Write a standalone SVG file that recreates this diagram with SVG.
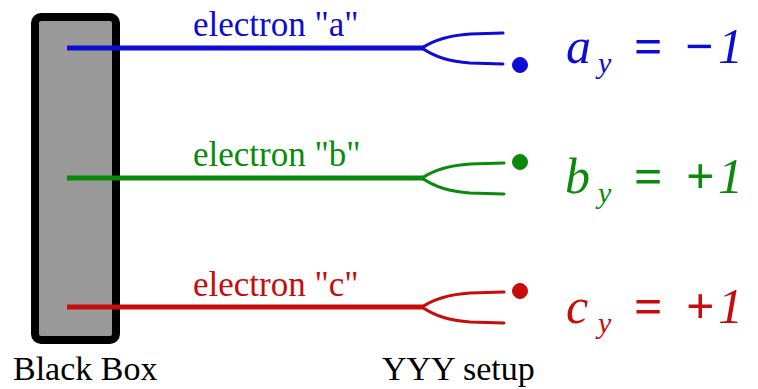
<svg xmlns="http://www.w3.org/2000/svg" width="758" height="389" viewBox="0 0 758 389">
  <style>
    .lbl { font-family: "Liberation Serif", "Times New Roman", serif; font-size: 35px; }
    .bot { font-family: "Liberation Serif", "Times New Roman", serif; font-size: 34px; fill: #000000; }
    .eq { font-family: "Liberation Serif", "Times New Roman", serif; font-size: 50px; }
    .it { font-style: italic; }
    .sub { font-style: italic; font-size: 30px; }
    .op { font-weight: bold; }
    .wire { fill: none; stroke-width: 5; }
    .prong { fill: none; stroke-width: 3; stroke-linecap: round; }
    .blue { fill: #0c0cd6; stroke: #0c0cd6; }
    .green { fill: #0a8a0a; stroke: #0a8a0a; }
    .red { fill: #c80c0c; stroke: #c80c0c; }
    text.blue, text.green, text.red { stroke: none; }
  </style>
  <rect width="758" height="389" fill="#ffffff"/>

  <g id="black-box">
    <rect x="35" y="17" width="81" height="323" rx="6" ry="6" fill="#999999" stroke="#000000" stroke-width="8"/>
    <text class="bot" x="13" y="380">Black Box</text>
  </g>

  <g id="connectors">
    <line class="wire blue" x1="67" y1="48" x2="424" y2="48"/>
    <line class="wire green" x1="67" y1="178" x2="424" y2="178"/>
    <line class="wire red" x1="67" y1="307" x2="424" y2="307"/>
  </g>

  <g id="label-a">
    <text class="lbl blue" x="193" y="36">electron "a"</text>
  </g>
  <g id="label-b">
    <text class="lbl green" x="193" y="166">electron "b"</text>
  </g>
  <g id="label-c">
    <text class="lbl red" x="193" y="296">electron "c"</text>
  </g>

  <g id="detector-a">
    <path class="prong blue" style="fill:none" d="M422,48 Q440,36 470,34 L503,33 M422,48 Q440,61 470,63 L503,64"/>
    <circle cx="520" cy="65" r="7.5" class="blue"/>
    <text class="eq blue">
      <tspan class="it" x="566" y="63">a</tspan><tspan class="sub" x="598" y="73">y</tspan><tspan class="op" x="634" y="63">=</tspan><tspan class="op" x="685" y="63">−</tspan><tspan class="it" x="718" y="63">1</tspan>
    </text>
  </g>

  <g id="detector-b">
    <path class="prong green" style="fill:none" d="M422,178 Q440,166 470,164 L504,163 M422,178 Q440,191 470,193 L504,194"/>
    <circle cx="520" cy="162" r="7.5" class="green"/>
    <text class="eq green">
      <tspan class="it" x="565" y="193">b</tspan><tspan class="sub" x="598" y="203">y</tspan><tspan class="op" x="634" y="193">=</tspan><tspan class="op" x="686" y="193">+</tspan><tspan class="it" x="718" y="193">1</tspan>
    </text>
  </g>

  <g id="detector-c">
    <path class="prong red" style="fill:none" d="M422,307 Q440,295 470,293 L504,292 M422,307 Q440,320 470,322 L504,323"/>
    <circle cx="520" cy="291" r="7.5" class="red"/>
    <text class="eq red">
      <tspan class="it" x="566" y="323">c</tspan><tspan class="sub" x="598" y="333">y</tspan><tspan class="op" x="634" y="323">=</tspan><tspan class="op" x="686" y="323">+</tspan><tspan class="it" x="718" y="323">1</tspan>
    </text>
    <text class="bot" x="382" y="380">YYY setup</text>
  </g>
</svg>
